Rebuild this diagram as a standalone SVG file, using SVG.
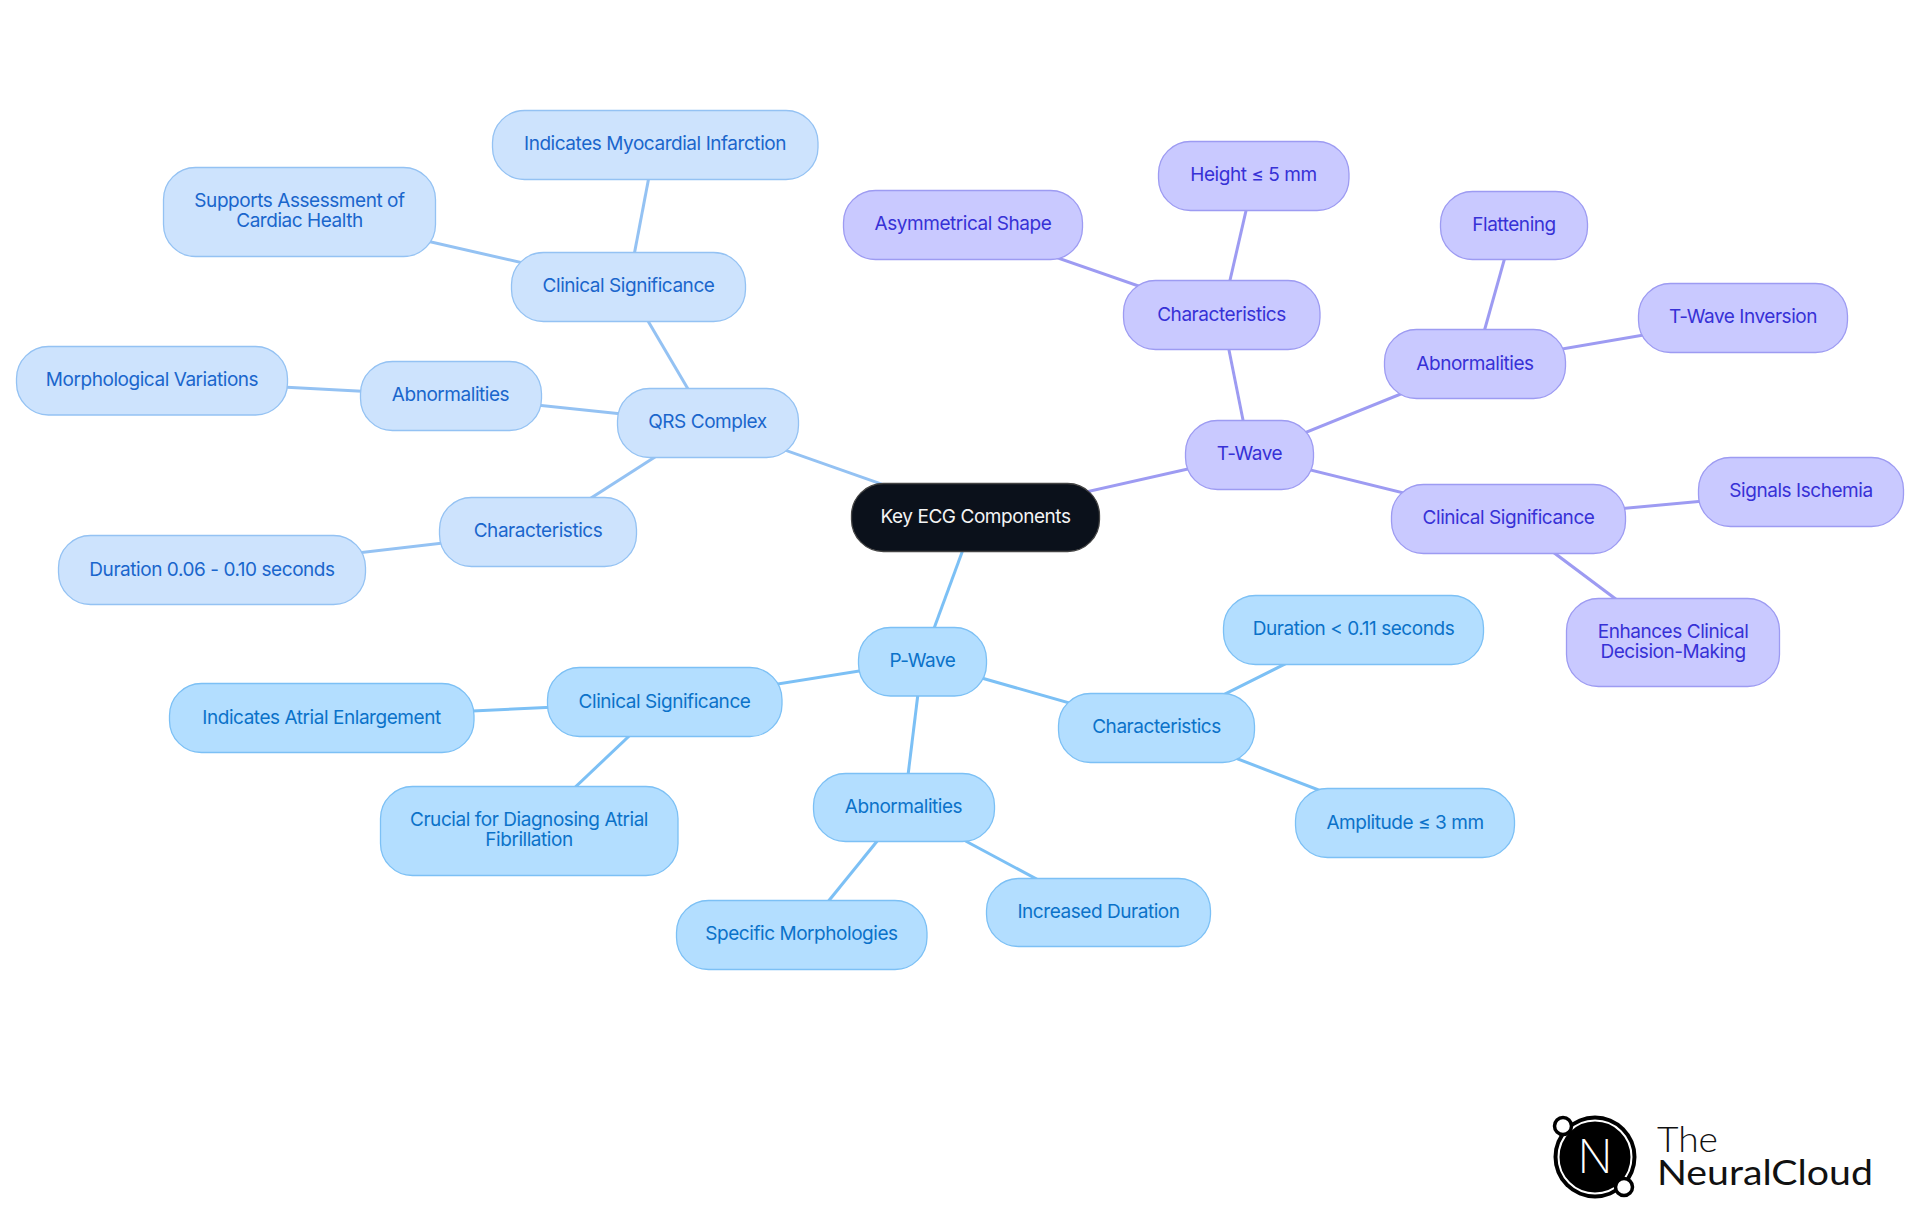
<svg xmlns="http://www.w3.org/2000/svg" width="1920" height="1215" viewBox="0 0 1920 1215">
<style>
text{font-family:Inter,"Noto Sans","Liberation Sans",sans-serif;font-size:19px;letter-spacing:-0.45px;text-anchor:middle;dominant-baseline:central;font-weight:400}
rect{stroke-width:1.3}
.edges line{stroke-width:3;fill:none}
.p rect{fill:#b3deff;stroke:#7cc0f5}.p text{fill:#0b72c9}
.q rect{fill:#cde3fd;stroke:#94c2f3}.q text{fill:#1a66cc}
.t rect{fill:#c9c9ff;stroke:#9d9bf2}.t text{fill:#3731d6}
.le-p{stroke:#7cc0f5}.le-q{stroke:#94c2f3}.le-t{stroke:#9d9bf2}
</style>
<rect width="1920" height="1215" fill="#fff" stroke="none"/>
<g id="connectors" class="edges">
<line class="le-q" x1="975" y1="517" x2="708" y2="423"/>
<line class="le-q" x1="708" y1="423" x2="628" y2="287"/>
<line class="le-q" x1="628" y1="287" x2="655" y2="145"/>
<line class="le-q" x1="628" y1="287" x2="300" y2="212"/>
<line class="le-q" x1="708" y1="423" x2="451" y2="396"/>
<line class="le-q" x1="451" y1="396" x2="152" y2="380"/>
<line class="le-q" x1="708" y1="423" x2="538" y2="532"/>
<line class="le-q" x1="538" y1="532" x2="212" y2="570"/>
<line class="le-t" x1="975" y1="517" x2="1250" y2="455"/>
<line class="le-t" x1="1250" y1="455" x2="1222" y2="315"/>
<line class="le-t" x1="1222" y1="315" x2="1254" y2="176"/>
<line class="le-t" x1="1222" y1="315" x2="963" y2="225"/>
<line class="le-t" x1="1250" y1="455" x2="1475" y2="364"/>
<line class="le-t" x1="1475" y1="364" x2="1514" y2="225"/>
<line class="le-t" x1="1475" y1="364" x2="1743" y2="318"/>
<line class="le-t" x1="1250" y1="455" x2="1509" y2="519"/>
<line class="le-t" x1="1509" y1="519" x2="1801" y2="492"/>
<line class="le-t" x1="1509" y1="519" x2="1673" y2="642"/>
<line class="le-p" x1="975" y1="517" x2="922" y2="661"/>
<line class="le-p" x1="922" y1="661" x2="1157" y2="728"/>
<line class="le-p" x1="1157" y1="728" x2="1353" y2="630"/>
<line class="le-p" x1="1157" y1="728" x2="1405" y2="823"/>
<line class="le-p" x1="922" y1="661" x2="904" y2="808"/>
<line class="le-p" x1="904" y1="808" x2="1098" y2="912"/>
<line class="le-p" x1="904" y1="808" x2="801" y2="935"/>
<line class="le-p" x1="922" y1="661" x2="665" y2="702"/>
<line class="le-p" x1="665" y1="702" x2="321" y2="718"/>
<line class="le-p" x1="665" y1="702" x2="529" y2="831"/>
</g>
<g id="root"><rect x="851.5" y="483.5" width="248" height="68" rx="32" fill="#0b111b" stroke="#444"/><text x="975.5" y="516" fill="#f4f4f4">Key ECG Components</text></g>
<g id="qrs" class="q"><rect x="617.5" y="388.5" width="181" height="69" rx="32"/><text x="707.5" y="421">QRS Complex</text></g>
<g id="q-clin" class="q"><rect x="511.5" y="252.5" width="234" height="69" rx="32"/><text x="628.5" y="285">Clinical Significance</text></g>
<g id="q-mi" class="q"><rect x="492.5" y="110.5" width="325.5" height="69" rx="32"/><text x="655" y="143">Indicates Myocardial Infarction</text></g>
<g id="q-sup" class="q"><rect x="163.5" y="167.5" width="272" height="89" rx="32"/><text x="299.5" y="200.5">Supports Assessment of</text><text x="299.5" y="220.5">Cardiac Health</text></g>
<g id="q-abn" class="q"><rect x="360.5" y="361.5" width="181" height="69" rx="32"/><text x="450.5" y="394">Abnormalities</text></g>
<g id="q-mor" class="q"><rect x="16.5" y="346.5" width="271" height="68.5" rx="32"/><text x="152" y="379">Morphological Variations</text></g>
<g id="q-chr" class="q"><rect x="439.5" y="497.5" width="197" height="69" rx="32"/><text x="538" y="530">Characteristics</text></g>
<g id="q-dur" class="q"><rect x="58.5" y="535.5" width="307" height="69" rx="32"/><text x="212" y="569">Duration 0.06 - 0.10 seconds</text></g>
<g id="twave" class="t"><rect x="1185.5" y="420.5" width="128" height="69" rx="32"/><text x="1249.5" y="453">T-Wave</text></g>
<g id="t-chr" class="t"><rect x="1123.5" y="280.5" width="196.5" height="69" rx="32"/><text x="1221.5" y="314">Characteristics</text></g>
<g id="t-hgt" class="t"><rect x="1158.5" y="141.5" width="190.5" height="69" rx="32"/><text x="1253.5" y="174">Height ≤ 5 mm</text></g>
<g id="t-asy" class="t"><rect x="843.5" y="190.5" width="239" height="69" rx="32"/><text x="963" y="223">Asymmetrical Shape</text></g>
<g id="t-abn" class="t"><rect x="1384.5" y="329.5" width="181" height="69" rx="32"/><text x="1475" y="363">Abnormalities</text></g>
<g id="t-fla" class="t"><rect x="1440.5" y="191.5" width="147" height="68" rx="32"/><text x="1514" y="224">Flattening</text></g>
<g id="t-inv" class="t"><rect x="1638.5" y="283.5" width="209" height="69" rx="32"/><text x="1743" y="316">T-Wave Inversion</text></g>
<g id="t-clin" class="t"><rect x="1391.5" y="484.5" width="234" height="69" rx="32"/><text x="1508.5" y="517">Clinical Significance</text></g>
<g id="t-sig" class="t"><rect x="1698.5" y="457.5" width="205" height="69" rx="32"/><text x="1801" y="490">Signals Ischemia</text></g>
<g id="t-enh" class="t"><rect x="1566.5" y="598.5" width="213" height="88" rx="32"/><text x="1673" y="631.5">Enhances Clinical</text><text x="1673" y="651.5">Decision-Making</text></g>
<g id="pwave" class="p"><rect x="858.5" y="627.5" width="128" height="68.5" rx="32"/><text x="922.5" y="660">P-Wave</text></g>
<g id="p-chr" class="p"><rect x="1058.5" y="693.5" width="196" height="69" rx="32"/><text x="1156.5" y="726">Characteristics</text></g>
<g id="p-dur" class="p"><rect x="1223.5" y="595.5" width="260" height="69" rx="32"/><text x="1353.5" y="628">Duration &lt; 0.11 seconds</text></g>
<g id="p-amp" class="p"><rect x="1295.5" y="788.5" width="219" height="69" rx="32"/><text x="1405" y="822">Amplitude ≤ 3 mm</text></g>
<g id="p-abn" class="p"><rect x="813.5" y="773.5" width="181" height="68" rx="32"/><text x="903.5" y="806">Abnormalities</text></g>
<g id="p-inc" class="p"><rect x="986.5" y="878.5" width="224" height="68" rx="32"/><text x="1098.5" y="911">Increased Duration</text></g>
<g id="p-spe" class="p"><rect x="676.5" y="900.5" width="250.5" height="69" rx="32"/><text x="801.5" y="933">Specific Morphologies</text></g>
<g id="p-clin" class="p"><rect x="547.5" y="667.5" width="234.5" height="69" rx="32"/><text x="664.5" y="701">Clinical Significance</text></g>
<g id="p-atr" class="p"><rect x="169.5" y="683.5" width="304.5" height="69" rx="32"/><text x="321.5" y="717">Indicates Atrial Enlargement</text></g>
<g id="p-cru" class="p"><rect x="380.5" y="786.5" width="297.5" height="89" rx="32"/><text x="529" y="819.5">Crucial for Diagnosing Atrial</text><text x="529" y="839.5">Fibrillation</text></g>
<g id="logo">
<circle cx="1595" cy="1157" r="41.5" fill="#000"/>
<circle cx="1595" cy="1157" r="36.5" fill="none" stroke="#fff" stroke-width="2"/>
<circle cx="1563" cy="1126" r="8.5" fill="#fff" stroke="#000" stroke-width="3.5"/>
<circle cx="1624" cy="1187" r="8.5" fill="#fff" stroke="#000" stroke-width="3.5"/>
<text x="1595" y="1156" textLength="35" lengthAdjust="spacingAndGlyphs" style="font-size:46px;font-weight:200;letter-spacing:0;fill:#fff">N</text>
<text x="1657" y="1152" textLength="61" lengthAdjust="spacingAndGlyphs" style="font-family:Lato,Inter,sans-serif;font-size:35px;font-weight:300;letter-spacing:0;text-anchor:start;dominant-baseline:auto;fill:#111">The</text>
<text x="1657" y="1185" textLength="216" lengthAdjust="spacingAndGlyphs" style="font-family:Lato,Inter,sans-serif;font-size:35px;font-weight:400;letter-spacing:0;text-anchor:start;dominant-baseline:auto;fill:#111">NeuralCloud</text>
</g>
</svg>
